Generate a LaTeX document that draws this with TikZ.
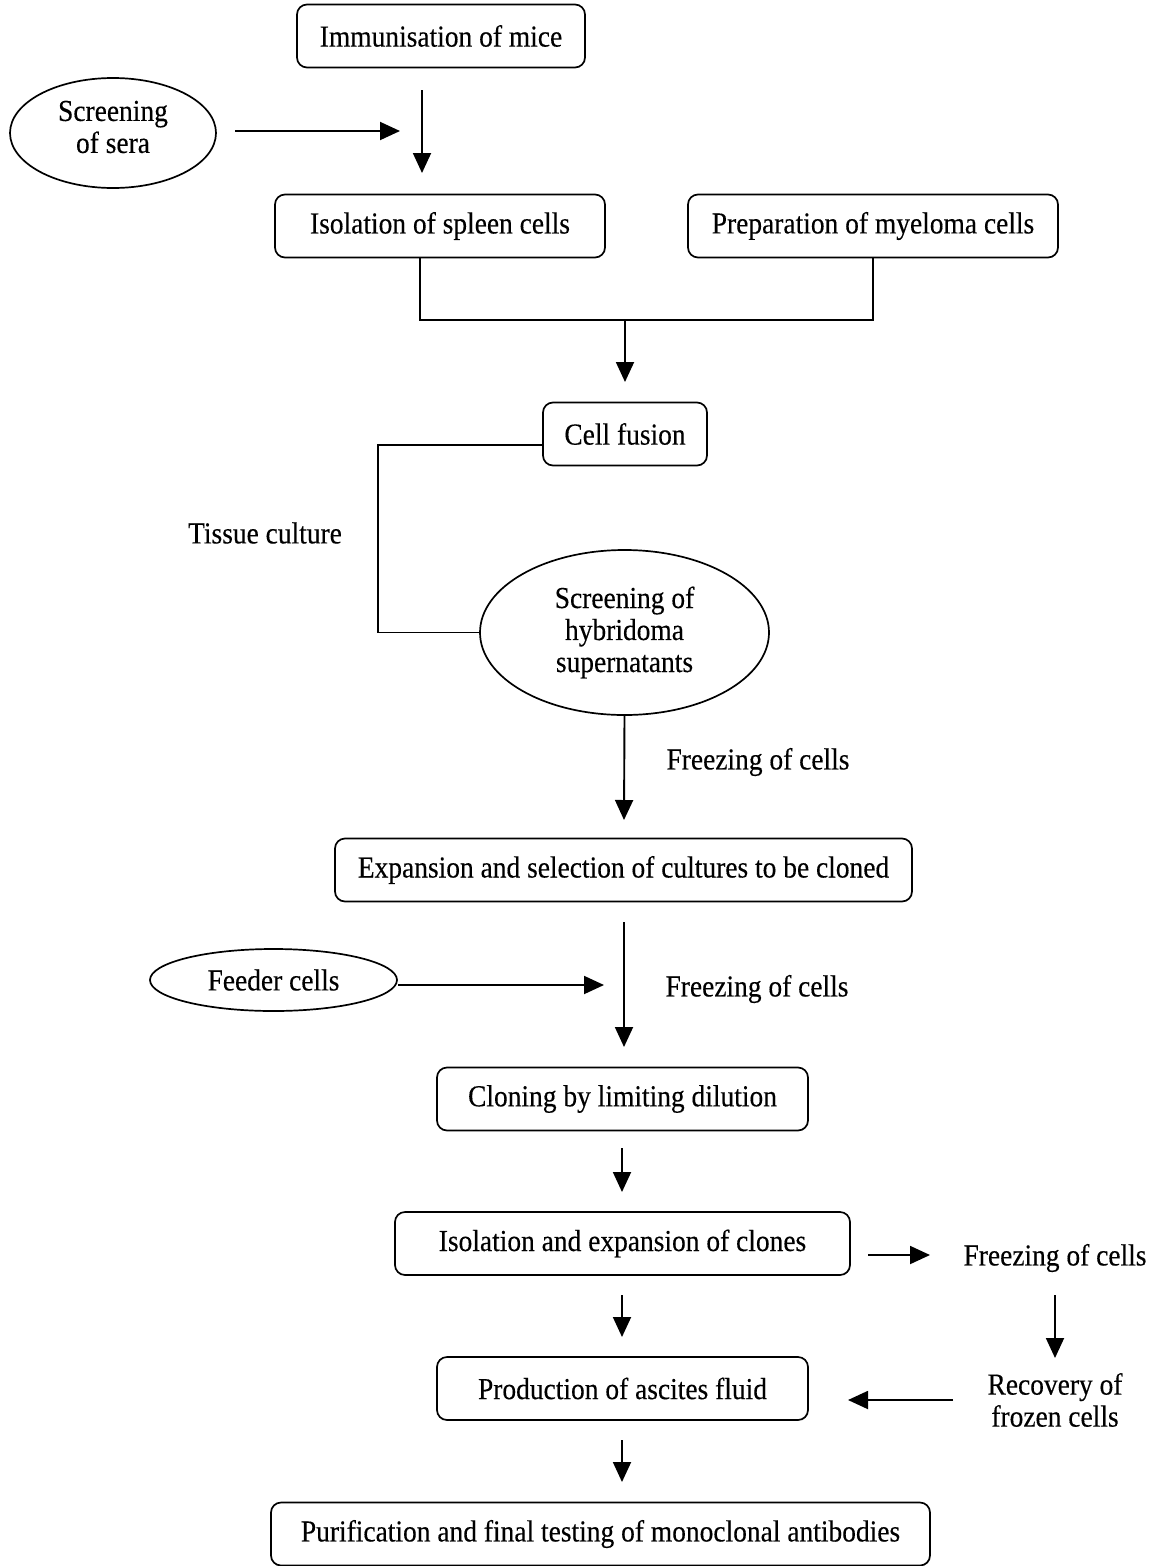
\documentclass[tikz,border=0pt]{standalone}
\usepackage{fontspec}
\setmainfont[FakeStretch=0.9,FakeBold=0.3]{Liberation Serif}
\usetikzlibrary{arrows.meta,shapes.geometric}
\begin{document}
\begin{tikzpicture}[x=1pt,y=-1pt,
  every node/.style={font=\fontsize{30.5}{32}\selectfont, align=center},
  box/.style={draw, line width=1.7pt, rounded corners=10pt, minimum height=63pt, inner sep=0pt},
  oval/.style={draw, ellipse, line width=1.7pt, inner sep=0pt},
  lbl/.style={inner sep=0pt},
  conn/.style={line width=1.9pt},
  arr/.style={line width=1.9pt, -{Triangle[length=20pt,width=18pt]}}
]
\useasboundingbox (0,0) rectangle (1150,1566);
% nodes
\node[box, minimum width=288pt] (imm) at (441,36) {Immunisation of mice};
\node[oval, minimum width=206pt, minimum height=110pt,
  label={[lbl,yshift=6pt]center:Screening\\of sera}] (sera) at (113,133) {};
\node[box, minimum width=330pt] (spleen) at (440,226) {Isolation of spleen cells};
\node[box, minimum width=370pt] (myel) at (873,226) {Preparation of myeloma cells};
\node[box, minimum width=164pt] (fusion) at (625,434) {Cell fusion};
\node[lbl] (tissue) at (265,533) {Tissue culture};
\node[oval, minimum width=289pt, minimum height=165pt] (hyb) at (624.5,632.5) {Screening of\\hybridoma\\supernatants};
\node[lbl] (freeze1) at (758,762) {Freezing of cells};
\node[box, minimum width=577pt] (expan) at (623.5,870) {Expansion and selection of cultures to be cloned};
\node[oval, minimum width=247pt, minimum height=62pt] (feeder) at (273.5,980) {Feeder cells};
\node[lbl] (freeze2) at (757,989) {Freezing of cells};
\node[box, minimum width=371pt] (clon) at (622.5,1099) {Cloning by limiting dilution};
\node[box, minimum width=455pt] (clones) at (622.5,1243.5) {Isolation and expansion of clones};
\node[lbl] (freeze3) at (1055,1258) {Freezing of cells};
\node[lbl] (recov) at (1055,1400) {Recovery of\\frozen cells};
\node[box, minimum width=371pt] (prod) at (622.5,1388.5) {Production of ascites fluid};
\node[box, minimum width=659pt] (purif) at (600.5,1534) {Purification and final testing of monoclonal antibodies};
% free-end coordinates
\coordinate (s1) at (235,131);
\coordinate (e1) at (400,131);
\coordinate (s2) at (422,90);
\coordinate (e2) at (422,173);
\coordinate (j1) at (625,320);
\coordinate (e3) at (625,382);
\coordinate (c1) at (378,445);
\coordinate (e4) at (624,820);
\coordinate (s5) at (624,922);
\coordinate (e5) at (624,1047);
\coordinate (e6) at (604,985);
\coordinate (s7) at (622,1148);
\coordinate (e7) at (622,1192);
\coordinate (s8) at (868,1255);
\coordinate (e8) at (930,1255);
\coordinate (s9) at (1055,1295);
\coordinate (e9) at (1055,1358);
\coordinate (s10) at (953,1400);
\coordinate (e10) at (848,1400);
\coordinate (s11) at (622,1295);
\coordinate (e11) at (622,1337);
\coordinate (s12) at (622,1440);
\coordinate (e12) at (622,1482);
% connectors
\draw[arr] (s1) -- (e1);
\draw[arr] (s2) -- (e2);
\draw[conn] ([xshift=-20pt]spleen.south) |- (j1) -| (myel.south);
\draw[arr] (j1) -- (e3);
\draw[conn] ([yshift=-11pt]fusion.west) -- (c1) |- (hyb.west);
\draw[arr] (hyb.south) -- (e4);
\draw[arr] (s5) -- (e5);
\draw[arr] (feeder.east |- e6) -- (e6);
\draw[arr] (s7) -- (e7);
\draw[arr] (s8) -- (e8);
\draw[arr] (s9) -- (e9);
\draw[arr] (s10) -- (e10);
\draw[arr] (s11) -- (e11);
\draw[arr] (s12) -- (e12);
\end{tikzpicture}
\end{document}
